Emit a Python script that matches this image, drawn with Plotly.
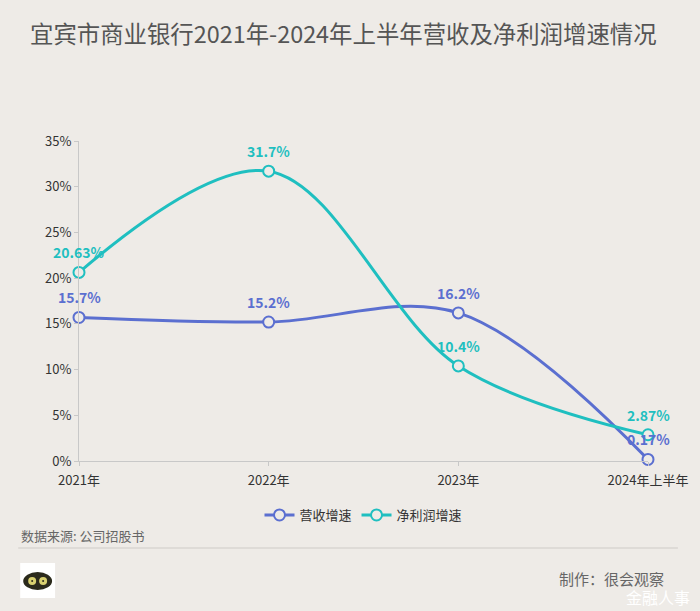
import plotly.graph_objects as go

categories = ["2021年", "2022年", "2023年", "2024年上半年"]
revenue_growth = [15.7, 15.2, 16.2, 0.17]
profit_growth = [20.63, 31.7, 10.4, 2.87]
revenue_labels = ["15.7%", "15.2%", "16.2%", "0.17%"]
profit_labels = ["20.63%", "31.7%", "10.4%", "2.87%"]
y_ticks = [0, 5, 10, 15, 20, 25, 30, 35]
y_tick_text = ["0%", "5%", "10%", "15%", "20%", "25%", "30%", "35%"]

BG = "#EEEBE7"
BLUE = "#5B6FD0"
TEAL = "#1FBFC0"
FONT = "Noto Sans CJK SC"

# pixel helpers (plot area: x 79..650, y 141..461)
L, R, T, B = 79, 650, 141, 461
def px(x):
    return (x - L) / (R - L)
def py(y):
    return (B - y) / (B - T)

fig = go.Figure()
for name, vals, labels, color in [("营收增速", revenue_growth, revenue_labels, BLUE),
                                   ("净利润增速", profit_growth, profit_labels, TEAL)]:
    fig.add_trace(go.Scatter(
        x=categories, y=vals, name=name, mode="lines+markers",
        line=dict(color=color, width=3, shape="spline", smoothing=1.0),
        marker=dict(size=11, color=BG, line=dict(color=color, width=2)),
        cliponaxis=False,
    ))
    for c, v, t in zip(categories, vals, labels):
        fig.add_annotation(x=c, y=v, text=t, showarrow=False, yshift=20,
                           xanchor="center", yanchor="middle",
                           font=dict(color=color, size=14, family=FONT, weight="bold"))

shapes = [
    dict(type="line", xref="paper", yref="paper", x0=px(18), x1=px(680),
         y0=py(548), y1=py(548), line=dict(color="#DEDBD7", width=2)),
    dict(type="rect", xref="paper", yref="paper", x0=px(20), x1=px(55),
         y0=py(598), y1=py(563), fillcolor="white", line=dict(width=0)),
    dict(type="circle", xref="paper", yref="paper", x0=px(23), x1=px(52),
         y0=py(590), y1=py(572), fillcolor="#2B2A1C", line=dict(width=0)),
    dict(type="circle", xref="paper", yref="paper", x0=px(28), x1=px(36),
         y0=py(585), y1=py(577), fillcolor="#D8D070", line=dict(width=0)),
    dict(type="circle", xref="paper", yref="paper", x0=px(39), x1=px(47),
         y0=py(585), y1=py(577), fillcolor="#D8D070", line=dict(width=0)),
    dict(type="circle", xref="paper", yref="paper", x0=px(31), x1=px(33),
         y0=py(582), y1=py(580), fillcolor="#2B2A1C", line=dict(width=0)),
    dict(type="circle", xref="paper", yref="paper", x0=px(42), x1=px(44),
         y0=py(582), y1=py(580), fillcolor="#2B2A1C", line=dict(width=0)),
]

annotations = [
    dict(text="宜宾市商业银行2021年-2024年上半年营收及净利润增速情况", xref="paper", yref="paper",
         x=px(344.5), y=py(33), xanchor="center", yanchor="middle", showarrow=False,
         font=dict(size=23.4, color="#555555", family=FONT)),
    dict(text="数据来源: 公司招股书", xref="paper", yref="paper",
         x=px(19), y=py(535), xanchor="left", yanchor="middle", showarrow=False,
         font=dict(size=13, color="#666666", family=FONT)),
    dict(text="制作：很会观察", xref="paper", yref="paper",
         x=px(668), y=py(578), xanchor="right", yanchor="middle", showarrow=False,
         font=dict(size=15, color="#666666", family=FONT)),
    dict(text="金融人事", xref="paper", yref="paper",
         x=px(694), y=py(597), xanchor="right", yanchor="middle", showarrow=False,
         font=dict(size=16, color="#FFFFFF", family=FONT)),
]
for a in annotations:
    fig.add_annotation(**a)

fig.update_layout(
    width=700, height=611,
    paper_bgcolor=BG, plot_bgcolor=BG,
    margin=dict(l=L, r=700 - R, t=T, b=611 - B),
    font=dict(family=FONT, size=13, color="#333333"),
    showlegend=True,
    legend=dict(orientation="h", x=0.5, xanchor="center", y=py(515), yanchor="middle",
                font=dict(size=13, color="#333333"), bgcolor="rgba(0,0,0,0)",
                itemwidth=30, tracegroupgap=0),
    xaxis=dict(showgrid=False, showline=True, linecolor="#C8C8C8", linewidth=1,
               ticks="outside", ticklen=4, tickcolor="#C8C8C8",
               tickfont=dict(size=13, color="#333333"), zeroline=False,
               ticklabelstandoff=3, range=[0, 3]),
    yaxis=dict(showgrid=False, showline=True, linecolor="#C8C8C8", linewidth=1,
               ticks="outside", ticklen=4, tickcolor="#C8C8C8",
               range=[0, 35], tickvals=y_ticks, ticktext=y_tick_text,
               tickfont=dict(size=13, color="#333333"), zeroline=False),
    shapes=shapes,
)

fig.write_html("out.html", config={"displayModeBar": False},
               post_script="document.body.style.margin='0';document.body.style.background='#EEEBE7';")
